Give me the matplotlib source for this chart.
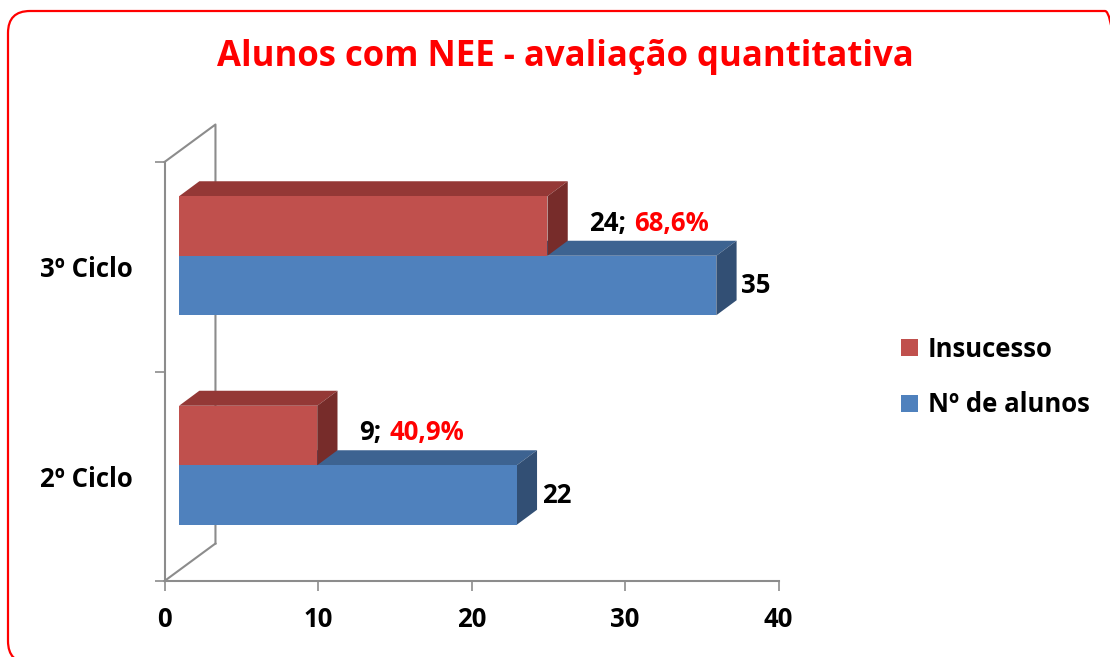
import matplotlib.pyplot as plt
from matplotlib.patches import Polygon, Rectangle, FancyBboxPatch, Patch

plt.rcParams['font.family'] = ['Open Sans', 'DejaVu Sans']
plt.rcParams['font.weight'] = 'bold'

# data
ciclos = ["2º Ciclo", "3º Ciclo"]
n_alunos = [22, 35]
insucesso = [9, 24]
series_names = ["Insucesso", "Nº de alunos"]

title = "Alunos com NEE - avaliação quantitativa"

# colours (front, top, side)
red_cols = ("#C0504D", "#943836", "#772C2A")
blue_cols = ("#4F81BD", "#3D6391", "#324F74")
grid_col = "#8C8C8C"

W, H = 1110, 657
fig = plt.figure(figsize=(W / 100, H / 100), dpi=100)

# red rounded border, drawn on a pixel-space overlay
bg = fig.add_axes([0, 0, 1, 1])
bg.set_xlim(0, W)
bg.set_ylim(0, H)
bg.axis("off")
bg.add_patch(FancyBboxPatch((8, -6), 1119, 652, boxstyle="round,pad=0,rounding_size=22",
                            fill=False, edgecolor="red", linewidth=1.6, clip_on=True))

ax = fig.add_axes([164.5 / W, 76 / H, 614 / W, 419 / H])
ax.set_xlim(0, 40)
ax.set_ylim(0, 2)
ax.patch.set_visible(False)

# 3d geometry (data units)
depth_x, depth_y = 3.32, 0.179          # full floor depth
plane_x, plane_y = 0.95, 0.0525          # offset of bar front plane
bar_dx, bar_dy = 1.32, 0.0716            # bar depth
bar_h = 0.284

# back wall lines
ax.plot([0, depth_x, depth_x], [2, 2 + depth_y, depth_y], color=grid_col,
        lw=1.5, clip_on=False, zorder=1)
ax.plot([0, depth_x], [0, depth_y], color=grid_col, lw=1.5, clip_on=False, zorder=1)


def bar3d(val, y0, cols):
    x0 = plane_x
    x1 = plane_x + val
    y1 = y0 + bar_h
    top = Polygon([(x0, y1), (x1, y1), (x1 + bar_dx, y1 + bar_dy), (x0 + bar_dx, y1 + bar_dy)],
                  closed=True, facecolor=cols[1], edgecolor="none", clip_on=False, zorder=3)
    side = Polygon([(x1, y0), (x1 + bar_dx, y0 + bar_dy), (x1 + bar_dx, y1 + bar_dy), (x1, y1)],
                   closed=True, facecolor=cols[2], edgecolor="none", clip_on=False, zorder=3)
    front = Rectangle((x0, y0), val, bar_h, facecolor=cols[0], edgecolor="none",
                      clip_on=False, zorder=3)
    for p in (top, side, front):
        ax.add_patch(p)
    return x1, y0 + bar_h / 2


fs = 18.5
for i in range(len(ciclos)):
    yc = i + 0.5 + plane_y
    bx, by = bar3d(n_alunos[i], yc - bar_h, blue_cols)
    rx, ry = bar3d(insucesso[i], yc, red_cols)

    ax.annotate(str(n_alunos[i]), xy=(bx, by), xytext=(18, 0), textcoords="offset points",
                ha="left", va="center", fontsize=fs, fontweight="bold", color="black")
    pct = insucesso[i] / n_alunos[i] * 100
    t = ax.annotate(f"{insucesso[i]};", xy=(rx, ry), xytext=(30, 2), textcoords="offset points",
                    ha="left", va="center", fontsize=fs, fontweight="bold", color="black")
    ax.annotate(f"{pct:.1f}%".replace(".", ","), xy=(1, 0.5), xycoords=t,
                xytext=(6, 0), textcoords="offset points",
                ha="left", va="center", fontsize=fs, fontweight="bold", color="red")

# axes styling
for s in ("top", "right"):
    ax.spines[s].set_visible(False)
for s in ("left", "bottom"):
    ax.spines[s].set_color(grid_col)
    ax.spines[s].set_linewidth(1.5)

ax.set_xticks([0, 10, 20, 30, 40])
ax.tick_params(axis="x", length=7, width=1.2, color=grid_col, pad=11, labelsize=fs)
ax.set_yticks([0, 1, 2])
ax.set_yticklabels([])
ax.tick_params(axis="y", which="major", length=7, width=1.2, color=grid_col)
ax.set_yticks([0.5, 1.5], minor=True)
ax.set_yticklabels(ciclos, minor=True)
ax.tick_params(axis="y", which="minor", length=0, pad=23, labelsize=fs)
for lab in ax.get_xticklabels() + ax.get_yticklabels(minor=True):
    lab.set_fontweight("bold")

fig.text(565 / W, 1 - 57 / H, title, ha="center", va="center", fontsize=25,
         fontweight="bold", color="red")

handles = [Patch(facecolor=red_cols[0]), Patch(facecolor=blue_cols[0])]
fig.legend(handles, series_names, loc="center left", bbox_to_anchor=(878 / W, 1 - 377 / H),
           frameon=False, handlelength=0.65, handleheight=0.65,
           handletextpad=0.38, labelspacing=1.1, prop={"weight": "bold", "size": fs})

fig.savefig("out.png", dpi=100)
